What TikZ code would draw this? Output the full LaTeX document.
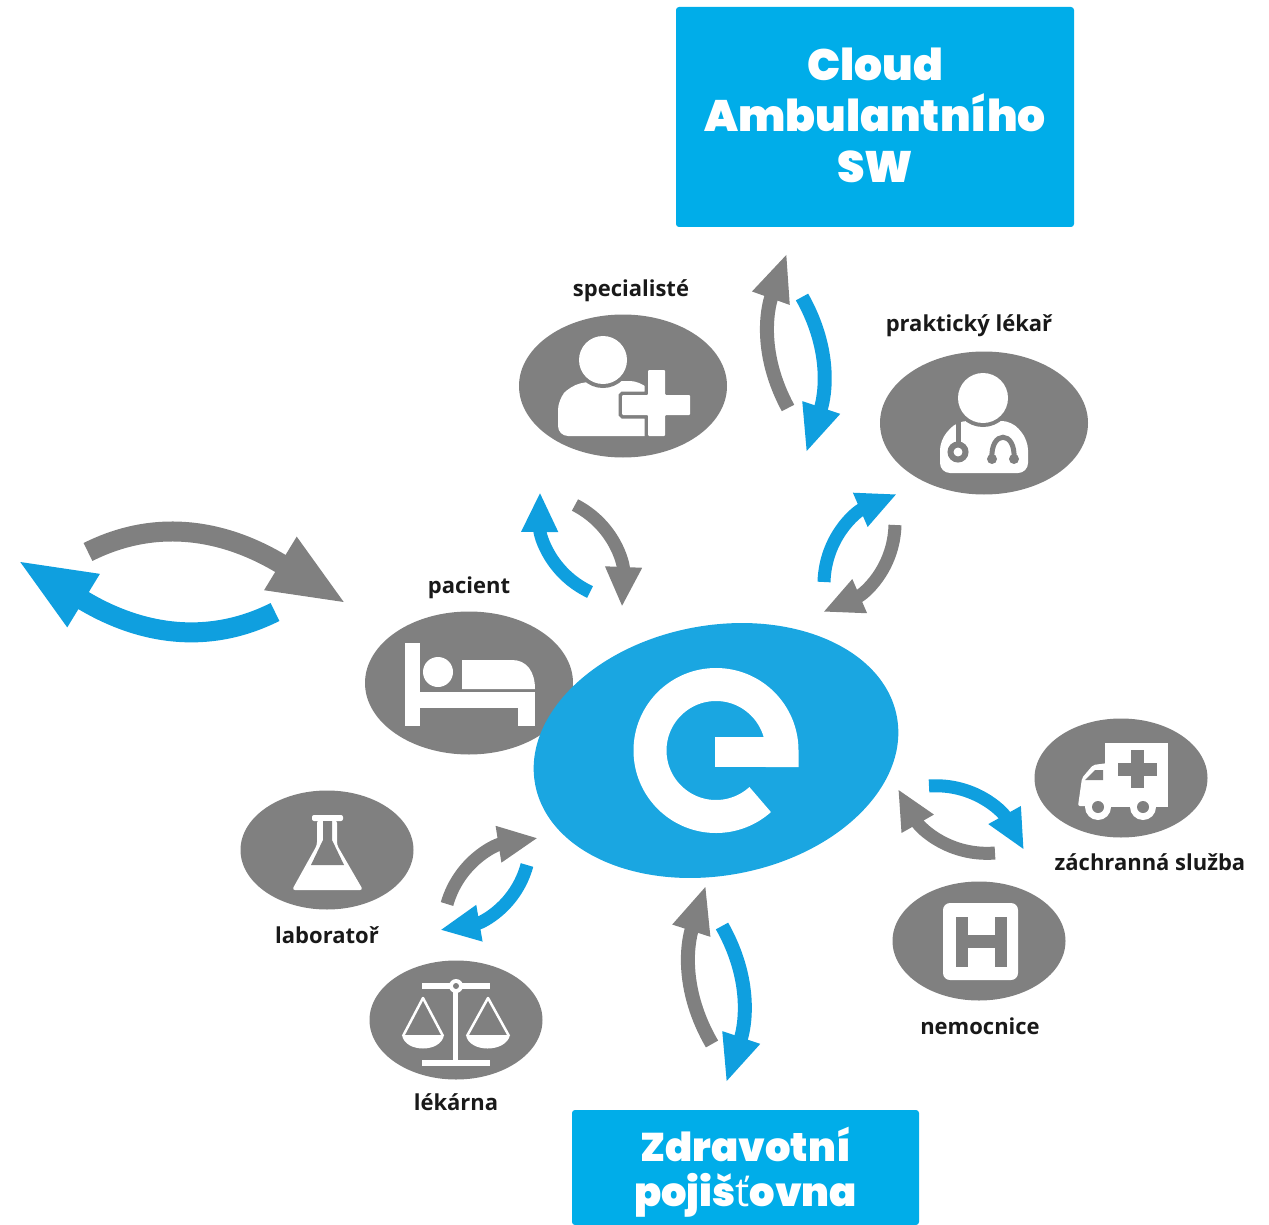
\documentclass[tikz,border=0pt]{standalone}
\usepackage{fontspec}
\usetikzlibrary{arrows.meta,shapes.geometric}
\setmainfont{Open Sans}
\newfontfamily\titlefont{Poppins Black}
\definecolor{boxblue}{HTML}{00ADE9}
\definecolor{logoblue}{HTML}{1AA6E1}
\definecolor{flowblue}{HTML}{0F9FDF}
\definecolor{iconback}{HTML}{808080}
\tikzset{
  x = 1pt, y = -1pt,
  IconOval/.style = {ellipse, fill = iconback, inner sep = 0pt, minimum width = 208pt, minimum height = 143pt},
  SmallOval/.style = {IconOval, minimum width = 173pt, minimum height = 119pt},
  NameLabel/.style = {font = \fontsize{22}{24}\selectfont\bfseries, text = black!90, inner sep = 0pt},
  TitleBox/.style = {fill = boxblue, rounded corners = 3pt, text = white, align = center, inner sep = 0pt},
  FlowEdge/.style = {line width = 14pt, -{Triangle[length = 48pt, width = 36pt]}, relative, out = 28, in = 160},
  FlowSmall/.style = {line width = 13pt, -{Triangle[length = 40pt, width = 34pt]}, relative, out = 38, in = 153},
  FlowBig/.style = {line width = 20pt, -{Triangle[length = 78pt, width = 56pt]}, relative, out = 38, in = 160},
  Glyph/.style = {fill = white, draw = none}
}
\begin{document}
\begin{tikzpicture}
  \useasboundingbox (0,0) rectangle (1269,1225);

  \node[TitleBox, minimum width = 398pt, minimum height = 220pt, font = \titlefont\fontsize{44}{51}\selectfont] (cloud) at (875,117) {Cloud\\Ambulantního\\SW\rule[-3pt]{0pt}{3pt}};
  \node[TitleBox, minimum width = 347pt, minimum height = 115pt, font = \titlefont\fontsize{40}{45}\selectfont] (pojistovna) at (745.5,1167.5) {\rule{0pt}{44pt}Zdravotní\\poji\v{s}{\normalfont\mdseries ť}ovna};

  \node[IconOval] (specialiste) at (623,386) {};
  \node[IconOval] (praktik) at (984,423) {};
  \node[IconOval] (pacient) at (469,683) {};
  \node[SmallOval] (sanitka) at (1121,778) {};
  \node[SmallOval] (nemocnice) at (979,941) {};
  \node[SmallOval] (laborator) at (327,850) {};
  \node[SmallOval] (lekarna) at (456,1020) {};
  \node[ellipse, fill = logoblue, inner sep = 0pt, minimum width = 368pt, minimum height = 250pt, rotate = 10.6] (logo) at (716,750.5) {};

  \node[NameLabel] (specialisteText) at (631,291) {specialisté};
  \node[NameLabel] (praktikText) at (969,326) {praktický lékař};
  \node[NameLabel] (pacientText) at (469,588) {pacient};
  \node[NameLabel] (sanitkaText) at (1150,862) {záchranná služba};
  \node[NameLabel] (nemocniceText) at (980,1026) {nemocnice};
  \node[NameLabel] (laboratorText) at (327,935) {laboratoř};
  \node[NameLabel] (lekarnaText) at (456,1102) {lékárna};

  \draw[white, line width = 33pt] (782,767) -- (782,750.5) arc[start angle = 0, end angle = 312, radius = 66pt];
  \fill[white] (715,737) rectangle (775,767);

  \coordinate (cloudUpA) at (788,408);
  \coordinate (cloudUpB) at (787,253);
  \coordinate (cloudDownA) at (802,297);
  \coordinate (cloudDownB) at (806,453);
  \draw[iconback, FlowEdge] (cloudUpA) to (cloudUpB);
  \draw[flowblue, FlowEdge] (cloudDownA) to (cloudDownB);

  \coordinate (poisUpA) at (712,1044);
  \coordinate (poisUpB) at (706,885);
  \coordinate (poisDownA) at (722,926);
  \coordinate (poisDownB) at (726,1083);
  \draw[iconback, FlowEdge] (poisUpA) to (poisUpB);
  \draw[flowblue, FlowEdge] (poisDownA) to (poisDownB);

  \coordinate (homeInA) at (88,552);
  \coordinate (homeInB) at (347,604);
  \coordinate (homeOutA) at (275,612);
  \coordinate (homeOutB) at (17,560);
  \draw[iconback, FlowBig] (homeInA) to (homeInB);
  \draw[flowblue, FlowBig] (homeOutA) to (homeOutB);

  \coordinate (specUpA) at (590,592);
  \coordinate (specUpB) at (540,492);
  \coordinate (specDownA) at (575,505);
  \coordinate (specDownB) at (622,607);
  \draw[flowblue, FlowSmall] (specUpA) to (specUpB);
  \draw[iconback, FlowSmall] (specDownA) to (specDownB);

  \coordinate (praktUpA) at (824,582);
  \coordinate (praktUpB) at (897,494);
  \coordinate (praktDownA) at (895,525);
  \coordinate (praktDownB) at (823,612);
  \draw[flowblue, FlowSmall] (praktUpA) to (praktUpB);
  \draw[iconback, FlowSmall] (praktDownA) to (praktDownB);

  \coordinate (labUpA) at (447,904);
  \coordinate (labUpB) at (538,838);
  \coordinate (labDownA) at (527,865);
  \coordinate (labDownB) at (440,930);
  \draw[iconback, FlowSmall] (labUpA) to (labUpB);
  \draw[flowblue, FlowSmall] (labDownA) to (labDownB);

  \coordinate (saniOutA) at (929,786);
  \coordinate (saniOutB) at (1024,850);
  \coordinate (saniInA) at (995,853);
  \coordinate (saniInB) at (898,789);
  \draw[flowblue, FlowSmall] (saniOutA) to (saniOutB);
  \draw[iconback, FlowSmall] (saniInA) to (saniInB);

  \fill[Glyph, rounded corners = 10pt] (558,436) -- (558,400) -- (570,386) -- (590,381) -- (640,381) -- (660,400) -- (660,436) -- cycle;
  \path[Glyph, preaction = {draw = iconback, line width = 8pt}] (603,360) circle (24pt);
  \path[Glyph, rounded corners = 1pt, preaction = {draw = iconback, line width = 7pt}] (648,370) -- (665,370) -- (665,395) -- (690,395) -- (690,415) -- (665,415) -- (665,436) -- (648,436) -- (648,415) -- (622,415) -- (622,395) -- (648,395) -- cycle;

  \fill[Glyph, rounded corners = 10pt] (940,473) -- (940,440) -- (957,421) -- (1012,421) -- (1028,440) -- (1028,473) -- cycle;
  \path[Glyph, preaction = {draw = iconback, line width = 8pt}] (983,398) circle (25pt);
  \draw[iconback, line width = 5pt] (958,422) -- (958,445);
  \draw[iconback, line width = 6pt] (958,452) circle (7.5pt);
  \draw[iconback, line width = 5pt] (992,459) .. controls (990,430) and (1016,430) .. (1014,459);
  \fill[iconback] (992,459) circle (5pt);
  \fill[iconback] (1014,459) circle (5pt);

  \fill[Glyph] (405,643) rectangle (420,726);
  \fill[Glyph] (405,692) rectangle (535,708);
  \fill[Glyph] (518,692) rectangle (535,726);
  \fill[Glyph] (438,672) circle (15pt);
  \fill[Glyph] (462,689) -- (462,660) -- (512,660) .. controls (527,660) and (535,672) .. (535,689) -- cycle;

  \fill[Glyph, rounded corners = 2pt] (312,815) rectangle (343,821);
  \fill[Glyph, rounded corners = 3pt] (317,820) -- (317,845) -- (292,890) -- (363,890) -- (337,845) -- (337,820) -- cycle;
  \fill[iconback] (323,821) -- (323,840) -- (311,865) -- (344,865) -- (332,840) -- (332,821) -- cycle;

  \fill[Glyph] (422,983) rectangle (490,989);
  \fill[Glyph] (422,1060) rectangle (490,1066);
  \fill[Glyph] (453,987) rectangle (458,1062);
  \fill[Glyph] (456,986) circle (7pt);
  \fill[iconback] (456,986) circle (3pt);
  \draw[white, line width = 2.5pt, line join = round] (403,1036) -- (423,998) -- (443,1036);
  \draw[white, line width = 2.5pt, line join = round] (467,1036) -- (488,998) -- (509,1036);
  \fill[Glyph] (402,1035) .. controls (405,1053) and (441,1053) .. (444,1035) -- cycle;
  \fill[Glyph] (466,1035) .. controls (469,1053) and (506,1053) .. (510,1035) -- cycle;

  \fill[Glyph] (1105,743) rectangle (1168,807);
  \fill[Glyph, rounded corners = 2pt] (1078,806) -- (1082,778) -- (1093,765) -- (1108,763) -- (1108,807) -- cycle;
  \fill[iconback] (1085,780) -- (1095,770) -- (1103,770) -- (1103,780) -- cycle;
  \fill[iconback] (1131,750) rectangle (1144,788);
  \fill[iconback] (1118,763) rectangle (1157,776);
  \fill[Glyph] (1098,807) circle (13pt);
  \fill[Glyph] (1143,807) circle (13pt);
  \fill[iconback] (1098,807) circle (6pt);
  \fill[iconback] (1143,807) circle (6pt);

  \fill[Glyph, rounded corners = 7pt] (943,903) rectangle (1018,980);
  \fill[iconback] (956,917) rectangle (968,967);
  \fill[iconback] (995,917) rectangle (1007,967);
  \fill[iconback] (960,935) rectangle (1000,948);
\end{tikzpicture}
\end{document}
